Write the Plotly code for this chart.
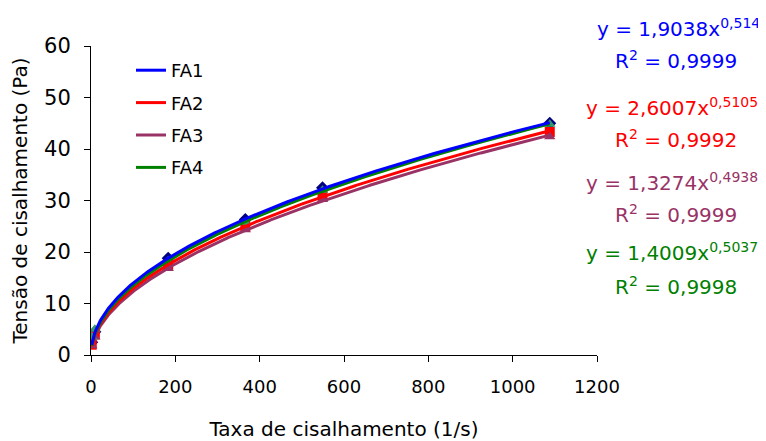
import numpy as np
import plotly.graph_objects as go

# Data
shear_rate = [1.83, 9.15, 183, 366, 549, 1088]
fa1 = [2.5, 4.5, 18.8, 26.3, 32.5, 45.0]
fa2 = [2.0, 4.0, 17.5, 25.0, 31.0, 43.3]
fa3 = [1.8, 3.5, 16.8, 24.3, 30.2, 42.4]
fa4 = [3.5, 5.0, 18.3, 25.8, 32.0, 44.8]
series_names = ["FA1", "FA2", "FA3", "FA4"]
equations = ["y = 1,9038x<sup>0,514</sup>", "y = 2,6007x<sup>0,5105</sup>",
             "y = 1,3274x<sup>0,4938</sup>", "y = 1,4009x<sup>0,5037</sup>"]
r2_texts = ["R<sup>2</sup> = 0,9999", "R<sup>2</sup> = 0,9992",
            "R<sup>2</sup> = 0,9999", "R<sup>2</sup> = 0,9998"]
x_ticks = [0, 200, 400, 600, 800, 1000, 1200]
y_ticks = [0, 10, 20, 30, 40, 50, 60]

line_colors = ["#0000FF", "#FF0000", "#993366", "#008000"]
marker_colors = ["#000080", "#FF0000", "#993366", "#339966"]
marker_symbols = ["diamond", "square", "triangle-up", "triangle-up"]

FONT = "DejaVu Sans"
fig = go.Figure()

all_series = [fa1, fa2, fa3, fa4]
for name, ys, mc, ms in zip(series_names, all_series, marker_colors, marker_symbols):
    fig.add_trace(go.Scatter(x=shear_rate, y=ys, mode="markers", showlegend=False,
                             marker=dict(color=mc, symbol=ms, size=10)))

# power-law trendlines fitted to the data (as in the original Excel chart)
xs = np.linspace(min(shear_rate), max(shear_rate), 500)
sr = np.array(shear_rate)
mask = sr >= 100
fits = {}
for i, ys in enumerate(all_series):
    ys = np.array(ys)
    b, lna = np.polyfit(np.log(sr[mask]), np.log(ys[mask]), 1)
    fits[i] = np.exp(lna) * xs ** b
for i in [2, 1, 3, 0]:
    fig.add_trace(go.Scatter(x=xs, y=fits[i], mode="lines", name=series_names[i],
                             legendgroup=series_names[i], legendrank=i + 1,
                             line=dict(color=line_colors[i], width=3)))

# page offset (browser body margin)
OFF = 8
W, H = 766 - OFF, 441 - OFF
# plot area in page pixel coordinates
top, bottom = 46, 355
left, right = 91, 597
def py(p):
    return (bottom - p) / (bottom - top)
def px(p):
    return (p - left) / (right - left)

eq_y = [28, 107, 182, 252]
r2_y = [60, 139, 214, 286]
eq_x = [678, 672, 672, 672]
for i in range(4):
    fig.add_annotation(x=px(eq_x[i]), y=py(eq_y[i]), xref="paper", yref="paper",
                       text=equations[i], showarrow=False, xanchor="center", yanchor="middle",
                       font=dict(family=FONT, size=20, color=line_colors[i]))
    fig.add_annotation(x=px(676), y=py(r2_y[i]), xref="paper", yref="paper",
                       text=r2_texts[i], showarrow=False, xanchor="center", yanchor="middle",
                       font=dict(family=FONT, size=20, color=line_colors[i]))

fig.update_layout(
    width=W, height=H,
    margin=dict(l=left - OFF, r=W - (right - OFF), t=top - OFF, b=H - (bottom - OFF)),
    paper_bgcolor="white", plot_bgcolor="white",
    font=dict(family=FONT, color="black"),
    legend=dict(x=px(131), y=py(52), xanchor="left", yanchor="top",
                bgcolor="rgba(0,0,0,0)", font=dict(family=FONT, size=18),
                tracegroupgap=6, traceorder="grouped"),
    xaxis=dict(range=[0, 1200], tickvals=x_ticks, showline=True, linecolor="black",
               linewidth=1, ticks="outside", ticklen=6, tickcolor="black",
               showgrid=False, zeroline=False, ticklabelstandoff=9, automargin=False,
               tickfont=dict(family=FONT, size=18),
               title=dict(text="Taxa de cisalhamento (1/s)", font=dict(family=FONT, size=20),
                          standoff=26)),
    yaxis=dict(range=[0, 60], tickvals=y_ticks, showline=True, linecolor="black",
               linewidth=1, ticks="outside", ticklen=6, tickcolor="black",
               showgrid=False, zeroline=False, ticklabelstandoff=9, automargin=False,
               tickfont=dict(family=FONT, size=21),
               title=dict(text="Tensão de cisalhamento (Pa)", font=dict(family=FONT, size=20),
                          standoff=12)),
)

fig.write_html("out.html")
